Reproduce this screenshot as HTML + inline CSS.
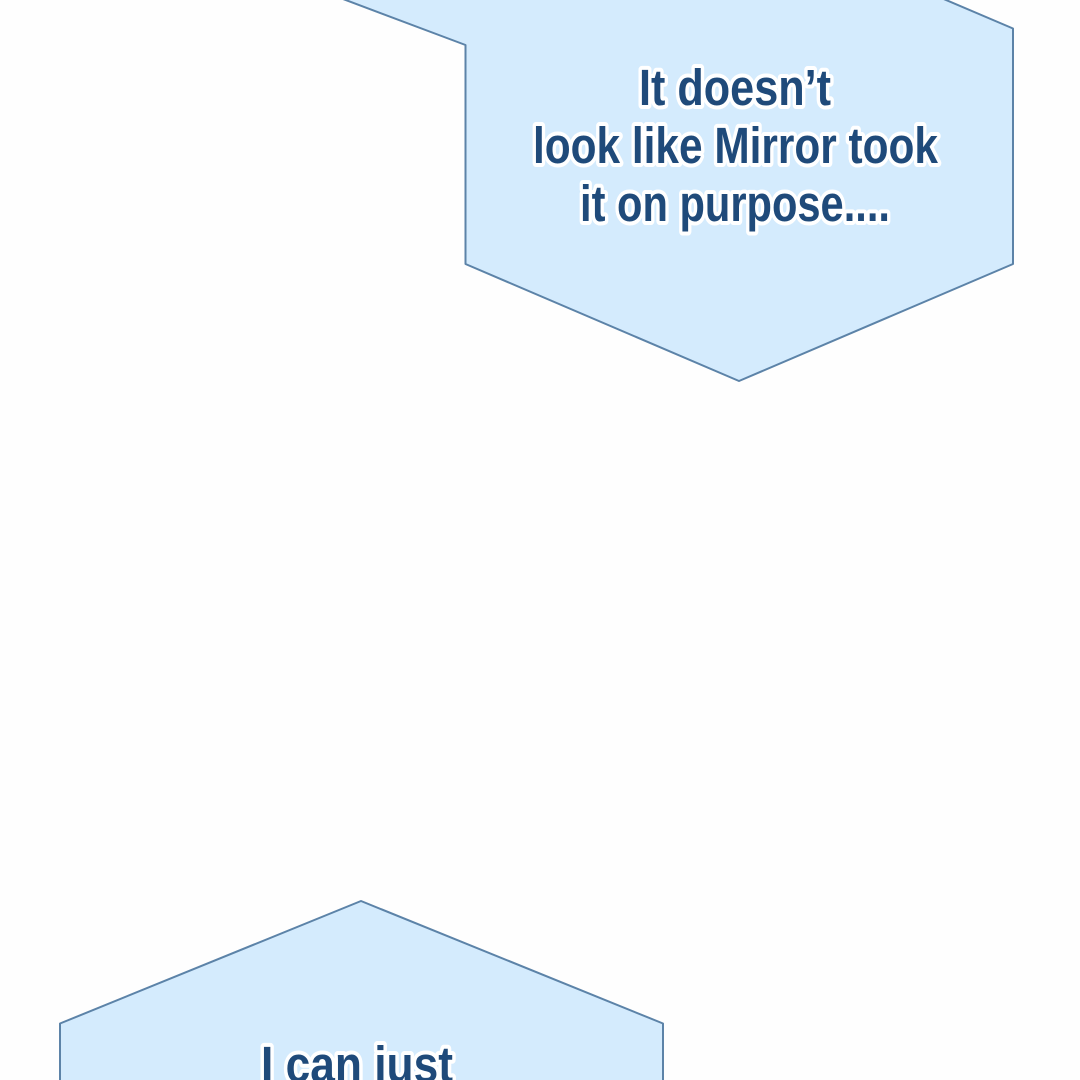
<!DOCTYPE html>
<html lang="en">
<head>
<meta charset="utf-8">
<title>Speech bubbles</title>
<style>
html,body{margin:0;padding:0;background:#fff;width:1080px;height:1080px;overflow:hidden}
svg{display:block}
text{font-family:"Liberation Sans",sans-serif;font-weight:700;font-size:51px;fill:#1f4a7a;stroke:#fff;stroke-width:8px;stroke-linejoin:round;paint-order:stroke fill}
</style>
</head>
<body>
<svg width="1080" height="1080" viewBox="0 0 1080 1080" xmlns="http://www.w3.org/2000/svg">
<rect width="1080" height="1080" style="fill:#fefefe"/>
<polygon points="343,-1 465.5,45 465.5,264 739,381 1013,264 1013,28.5 939,-3 343,-3" fill="#d4ebfd" stroke="#5c83a8" stroke-width="2" stroke-linejoin="round"/>
<polygon points="361,901 663,1023.5 663,1090 60,1090 60,1023.5" fill="#d4ebfd" stroke="#5c83a8" stroke-width="2" stroke-linejoin="round"/>
<text x="639" y="105" textLength="192" lengthAdjust="spacingAndGlyphs">It doesn’t</text>
<text x="533" y="163" textLength="405" lengthAdjust="spacingAndGlyphs">look like Mirror took</text>
<text x="580" y="221" textLength="310" lengthAdjust="spacingAndGlyphs">it on purpose....</text>
<text x="261" y="1082" textLength="192" lengthAdjust="spacingAndGlyphs">I can just</text>
</svg>
</body>
</html>
